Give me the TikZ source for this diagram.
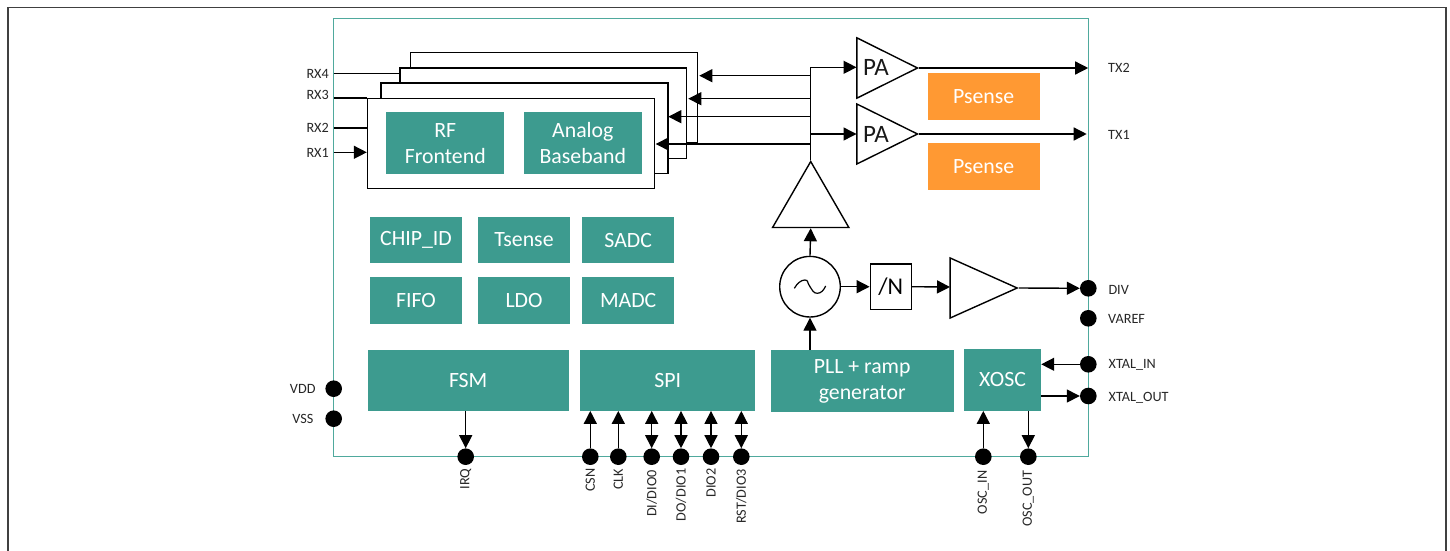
\documentclass[tikz,border=0pt]{standalone}
\usepackage{fontspec}
\setmainfont{Carlito}
\usetikzlibrary{arrows.meta,shapes.geometric,calc}
\definecolor{teal1}{HTML}{3D9B8F}
\definecolor{orange1}{HTML}{FF9933}
\definecolor{frame1}{HTML}{4FA99D}
\newcommand{\blk}[7][teal1]{%
  \node[block,fill=#1,minimum width=#5pt-#3pt,minimum height=#6pt-#4pt] (#2) at ({(#3+#5)/2},{(#4+#6)/2}) {#7};}
\newcommand{\rxb}[5]{%
  \node[rxbox,minimum width=#4pt-#2pt,minimum height=#5pt-#3pt] (#1) at ({(#2+#4)/2},{(#3+#5)/2}) {};}
\tikzset{
  x=1pt,y=-1pt,
  block/.style={draw=none,text=white,inner sep=0pt,align=center,font=\fontsize{21.8}{25.6}\selectfont},
  rxbox/.style={draw=black,fill=white,line width=1.4pt,inner sep=0pt},
  wire/.style={draw=black,line width=1.4pt},
  arr/.style={wire,-{Triangle[length=13pt,width=13pt]}},
  darr/.style={wire,{Triangle[length=13pt,width=13pt]}-{Triangle[length=13pt,width=13pt]}},
  pin/.style={circle,fill=black,draw=none,minimum size=16.6pt,inner sep=0pt},
  lab/.style={inner sep=0pt,font=\fontsize{14.2}{16}\selectfont,text=black!85},
  vlab/.style={lab,rotate=90,anchor=east},
  amp/.style={isosceles triangle,isosceles triangle stretches,draw=black,fill=white,line width=1.4pt,inner sep=0pt,shape border rotate=#1,anchor=apex},
  big/.style={inner sep=0pt,font=\fontsize{25}{28}\selectfont,text=black!90},
}
\begin{document}
\begin{tikzpicture}
\useasboundingbox (0,0) rectangle (1450,551);
% outer frame
\draw[black!75,line width=1.3pt] (8,551) -- (8,7.5) -- (1446,7.5) -- (1446,551);
% chip outline
\node[draw=frame1,line width=1.4pt,inner sep=0pt,minimum width=755pt,minimum height=438pt] (chip) at (711.1,237.7) {};

% RX stack
\rxb{rxd}{410.3}{52.7}{697.3}{143}
\rxb{rxc}{400}{68}{686.7}{158.3}
\rxb{rxb}{381}{83}{668}{173.7}
\rxb{rxa}{367.5}{98.3}{654.7}{188.7}
\blk{rf}{386.3}{112.3}{504.3}{174.3}{RF\\Frontend}
\blk{ab}{524}{112.3}{641.7}{174.3}{Analog\\Baseband}

% small blocks
\blk{chipid}{370}{216.7}{462}{263.3}{CHIP\_ID}
\blk{tsense}{478}{216.7}{570}{263.3}{Tsense}
\blk{sadc}{582}{216.7}{674.3}{263.3}{SADC}
\blk{fifo}{370}{277}{462}{323.7}{FIFO}
\blk{ldo}{478}{277}{570}{323.7}{LDO}
\blk{madc}{582}{277}{674.3}{323.7}{MADC}
\blk{fsm}{367.7}{350}{568.7}{410.7}{FSM}
\blk{spi}{580.3}{350}{755.3}{410.7}{SPI}
\blk{pll}{770.7}{350.3}{953.7}{412.3}{PLL + ramp\\generator}
\blk{xosc}{964}{348.7}{1041}{410.7}{XOSC}
\blk[orange1]{ps1}{927.7}{73}{1039.7}{119.7}{Psense}
\blk[orange1]{ps2}{927.7}{143.3}{1039.7}{190}{Psense}

% amplifiers
\node[amp=0,minimum height=60.6pt,minimum width=60.3pt] (pa2) at (919.3,68) {};
\node[amp=0,minimum height=60.6pt,minimum width=60pt] (pa1) at (919.3,134) {};
\node[big] (pa2t) at (876,67.5) {PA};
\node[big] (pa1t) at (876,134) {PA};
\node[amp=90,minimum height=66pt,minimum width=76.3pt] (drv) at (810.7,159.7) {};
\node[amp=0,minimum height=67pt,minimum width=60pt] (divamp) at (1019,288) {};

% VCO and divider
\node[circle,draw=black,fill=white,line width=1.4pt,minimum size=60.6pt,inner sep=0pt] (vco) at (810,286.7) {};
\draw[line width=1.2pt] ($(vco.center)+(-15.7,1.6)$) .. controls +(3,-5) and +(-4,0) .. ($(vco.center)+(-5,-6.7)$) .. controls +(3.5,0) and +(-3,-4) .. (vco.center) .. controls +(2.5,3.5) and +(-4,0) .. ($(vco.center)+(7.3,6.6)$) .. controls +(4,0) and +(-2,4) .. ($(vco.center)+(15.7,-0.7)$);
\node[draw=black,fill=white,line width=1.4pt,minimum width=41pt,minimum height=45.3pt,inner sep=0pt,font=\fontsize{24}{26}\selectfont] (divn) at (890.8,286.7) {/N};

% pins
\foreach \n/\x/\y in {div/1088.3/288.3, varef/1088.3/318.3, xin/1088.3/364.3, xout/1088.3/396,
  vdd/333.7/388.7, vss/333.7/418.7,
  irq/465.7/456.7, csn/590.3/456.7, clk/618.3/456.7, dio0/651.7/456.7, dio1/681/456.7, dio2/711/456.7, dio3/741.3/456.7,
  oscin/983.3/456.7, oscout/1028.3/456.7}
  \node[pin] (p\n) at (\x,\y) {};

% RX connectors
\coordinate (rx4) at (333.5,73.7);
\coordinate (rx3) at (333.5,98);
\coordinate (rx2) at (333.5,128);
\coordinate (rx1) at (333.5,152.3);
\draw[wire] (rx4) -- (rx4 -| rxc.west);
\draw[wire] (rx3) -- (rx3 -| rxa.west);
\draw[wire] (rx2) -- (rx2 -| rxa.west);
\draw[arr] (rx1) -- (rx1 -| rxa.west);

% LO bus
\coordinate (busT) at (810.7,67.3);
\coordinate (bus4) at (810.7,75.7);
\coordinate (bus3) at (810.7,98.7);
\coordinate (bus2) at (810.7,116.7);
\coordinate (bus1) at (810.7,144);
\coordinate (busL) at (810.7,134);
\coordinate (tip4) at (699.3,75.7);
\coordinate (tip3) at (688.3,98.7);
\coordinate (tip2) at (668.3,116.7);
\coordinate (tip1) at (655.7,144);
\coordinate (pa2in) at (856.5,67.3);
\coordinate (pa1in) at (856.5,134);
\draw[wire] (drv.apex) -- (busT);
\draw[arr] (busT) -- (pa2in);
\draw[arr] (busL) -- (pa1in);
\draw[arr] (bus4) -- (tip4);
\draw[arr] (bus3) -- (tip3);
\draw[arr] (bus2) -- (tip2);
\draw[arr] (bus1) -- (tip1);

% TX
\coordinate (tx2) at (1088.2,68);
\coordinate (tx1) at (1086.7,134);
\draw[arr] (pa2.apex) -- (tx2);
\draw[arr] (pa1.apex) -- (tx1);

% synth chain
\draw[arr] (vco.north) -- (drv.south);
\draw[arr] (pll.north -| vco) -- (vco.south);
\draw[arr] (vco.east) -- (divn.west);
\coordinate (divamp-in) at (950,287);
\draw[arr] (divn.east) -- (divamp-in);
\draw[arr] (divamp.apex) -- (pdiv.west);

% XOSC
\draw[arr] (pxin.west) -- (pxin.west -| xosc.east);
\draw[arr] (pxout.west -| xosc.east) -- (pxout.west);
\draw[arr] (poscin.north) -- (poscin.north |- xosc.south);
\draw[arr] (poscout.north |- xosc.south) -- (poscout.north);

% bottom pins
\draw[arr] (pirq.north |- fsm.south) -- (pirq.north);
\draw[arr] (pcsn.north) -- (pcsn.north |- spi.south);
\draw[arr] (pclk.north) -- (pclk.north |- spi.south);
\draw[darr] (pdio0.north) -- (pdio0.north |- spi.south);
\draw[darr] (pdio1.north) -- (pdio1.north |- spi.south);
\draw[darr] (pdio2.north) -- (pdio2.north |- spi.south);
\draw[darr] (pdio3.north) -- (pdio3.north |- spi.south);

% labels
\node[lab,anchor=east] (lrx4) at (329,73.5) {RX4};
\node[lab,anchor=east] (lrx3) at (329,95) {RX3};
\node[lab,anchor=east] (lrx2) at (329,127.5) {RX2};
\node[lab,anchor=east] (lrx1) at (329,152.5) {RX1};
\node[lab,anchor=west] (ltx2) at (1108,68) {TX2};
\node[lab,anchor=west] (ltx1) at (1108,134.5) {TX1};
\node[lab,anchor=west] (ldiv) at (1108.3,290) {DIV};
\node[lab,anchor=west] (lvaref) at (1108,319) {VAREF};
\node[lab,anchor=west] (lxin) at (1108.5,364.5) {XTAL\_IN};
\node[lab,anchor=west] (lxout) at (1108.5,397.5) {XTAL\_OUT};
\node[lab,anchor=east] (lvdd) at (315.7,389) {VDD};
\node[lab,anchor=east] (lvss) at (313.7,419) {VSS};
\node[vlab] (lirq) at (465.7,468.5) {IRQ};
\node[vlab] (lcsn) at (590.3,468.5) {CSN};
\node[vlab] (lclk) at (618.3,468.5) {CLK};
\node[vlab] (ldio0) at (651.7,470) {DI/DIO0};
\node[vlab] (ldio1) at (681,468.5) {DO/DIO1};
\node[vlab] (ldio2) at (711,468.5) {DIO2};
\node[vlab] (ldio3) at (741.3,469) {RST/DIO3};
\node[vlab] (loscin) at (983.3,470.5) {OSC\_IN};
\node[vlab] (loscout) at (1028.3,470.5) {OSC\_OUT};
\end{tikzpicture}
\end{document}
